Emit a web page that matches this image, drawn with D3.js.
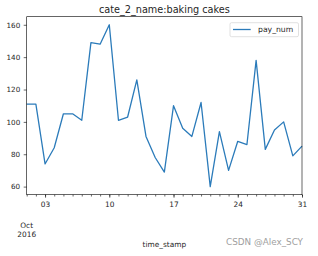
<!DOCTYPE html>
<html>
<head>
<meta charset="utf-8">
<script src="https://cdn.jsdelivr.net/npm/d3@7"></script>
<style>
body { margin: 0; background: #fff; }
text { font-family: "DejaVu Sans", sans-serif; fill: #262626; }
</style>
</head>
<body>
<svg class="chart" width="318" height="256"></svg>
<script>

// pay_num per day, Oct 2016
var days = d3.range(1, 32);
var payNum = [111, 111, 74, 84, 105, 105, 101, 149, 148, 160,
              101, 103, 126, 91, 78, 69, 110, 96, 91, 112,
              60, 94, 70, 88, 86, 138, 83, 95, 100, 79, 85];
var yTicks = [60, 80, 100, 120, 140, 160];
var xTickDays = [3, 10, 17, 24, 31];

var plotL = 26.7, plotR = 302, plotT = 16.7, plotB = 194.7;

var svg = d3.select(".chart");

var x = d3.scaleTime()
    .domain([new Date(2016, 9, 1), new Date(2016, 9, 31)])
    .range([plotL, plotR]);

var y = d3.scaleLinear()
    .domain([55, 165])
    .range([plotB, plotT]);

var dates = days.map(function(d) { return new Date(2016, 9, d); });

// minor ticks, one per day
svg.append("g")
    .attr("transform", "translate(0," + plotB + ")")
    .call(d3.axisBottom(x).tickValues(dates).tickSize(1.8).tickFormat(""))
    .call(function(g) { g.select(".domain").remove(); g.selectAll("line").attr("stroke", "#000").attr("stroke-width", 0.6); });

// major ticks
svg.append("g")
    .attr("transform", "translate(0," + plotB + ")")
    .call(d3.axisBottom(x)
        .tickValues(xTickDays.map(function(d) { return new Date(2016, 9, d); }))
        .tickSize(3).tickPadding(3.6)
        .tickFormat(d3.timeFormat("%d")))
    .call(function(g) {
        g.select(".domain").remove();
        g.selectAll("line").attr("stroke", "#000").attr("stroke-width", 0.6);
        g.selectAll("text").attr("font-size", "7.4px").attr("fill", "#262626");
    });

svg.append("g")
    .attr("transform", "translate(" + plotL + ",0)")
    .call(d3.axisLeft(y).tickValues(yTicks).tickSize(3).tickPadding(3.5))
    .call(function(g) {
        g.select(".domain").remove();
        g.selectAll("line").attr("stroke", "#000").attr("stroke-width", 0.6);
        g.selectAll("text").attr("font-size", "7.2px").attr("fill", "#262626");
    });

// month / year label under first day
svg.append("text").attr("x", x(dates[0])).attr("y", 228.3)
    .attr("text-anchor", "middle").attr("font-size", "7.4px").text("Oct");
svg.append("text").attr("x", x(dates[0])).attr("y", 237.3)
    .attr("text-anchor", "middle").attr("font-size", "7.4px").text("2016");

var line = d3.line()
    .x(function(d, i) { return x(dates[i]); })
    .y(function(d) { return y(d); });

svg.append("path")
    .datum(payNum)
    .attr("d", line)
    .attr("fill", "none")
    .attr("stroke", "#2b7bba")
    .attr("stroke-width", 1.3)
    .attr("stroke-linejoin", "round");

// frame
svg.append("rect")
    .attr("x", plotL).attr("y", plotT)
    .attr("width", plotR - plotL).attr("height", plotB - plotT)
    .attr("fill", "none").attr("stroke", "#000").attr("stroke-width", 0.6);

svg.append("text").attr("x", (plotL + plotR) / 2).attr("y", 12.5)
    .attr("text-anchor", "middle").attr("font-size", "9.7px")
    .text("cate_2_name:baking cakes");

svg.append("text").attr("x", (plotL + plotR) / 2).attr("y", 247)
    .attr("text-anchor", "middle").attr("font-size", "7.4px")
    .text("time_stamp");

// legend
var lg = svg.append("g");
lg.append("rect").attr("x", 230).attr("y", 22.7).attr("width", 68.5).attr("height", 14)
    .attr("rx", 1.5).attr("fill", "#fff").attr("stroke", "#ccc").attr("stroke-width", 0.6);
lg.append("line").attr("x1", 233).attr("x2", 250.7).attr("y1", 29.5).attr("y2", 29.5)
    .attr("stroke", "#2b7bba").attr("stroke-width", 1.3);
lg.append("text").attr("x", 258).attr("y", 32.2).attr("font-size", "7.7px").text("pay_num");

svg.append("text").attr("x", 303).attr("y", 244.5)
    .attr("text-anchor", "end").attr("font-size", "8.8px")
    .style("fill", "#a0a0a0").text("CSDN @Alex_SCY");

</script>
</body>
</html>
